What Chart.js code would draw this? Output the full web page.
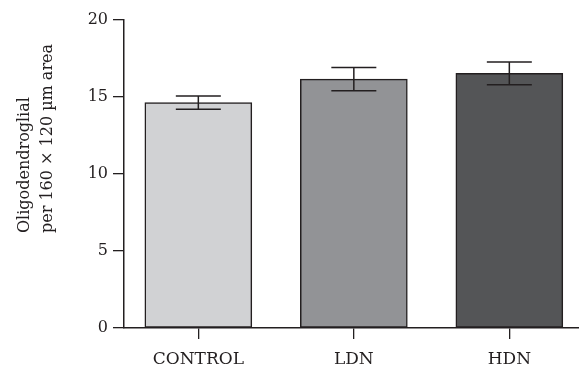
<!DOCTYPE html>
<html>
<head>
<meta charset="utf-8">
<script src="https://cdn.jsdelivr.net/npm/chart.js@4"></script>
<style>
  html, body { margin: 0; padding: 0; background: #fff; }
  #wrap { width: 579px; height: 369px; }
</style>
</head>
<body>
<div id="wrap"><canvas id="bar-chart"></canvas></div>
<script>
// Datos del gráfico
const grupos = ["CONTROL", "LDN", "HDN"];
const medias = [14.63, 16.16, 16.53];
const errores = [0.43, 0.75, 0.74];
const ticksY = [0, 5, 10, 15, 20];
const colores = ["#d1d2d4", "#929396", "#545557"];
const tituloY = ["Oligodendroglial", "per 160 \u00d7 120 \u00b5m area"];

const tinta = "#231f20";
const fuente = "'DejaVu Serif', 'Liberation Serif', serif";

// Barras de error
const barrasError = {
  id: "barrasError",
  afterDatasetsDraw(chart) {
    const ctx = chart.ctx;
    const x = chart.scales.x;
    const y = chart.scales.y;
    ctx.save();
    ctx.strokeStyle = tinta;
    ctx.lineWidth = 1.5;
    medias.forEach((m, i) => {
      const px = x.getPixelForValue(i);
      const alto = y.getPixelForValue(m + errores[i]);
      const bajo = y.getPixelForValue(m - errores[i]);
      ctx.beginPath();
      ctx.moveTo(px, alto); ctx.lineTo(px, bajo);
      ctx.moveTo(px - 22.5, alto); ctx.lineTo(px + 22.5, alto);
      ctx.moveTo(px - 22.5, bajo); ctx.lineTo(px + 22.5, bajo);
      ctx.stroke();
    });
    ctx.restore();
  }
};

// Título del eje Y (dos líneas, alineado a la izquierda)
const tituloEje = {
  id: "tituloEje",
  afterDraw(chart) {
    const ctx = chart.ctx;
    ctx.save();
    ctx.fillStyle = tinta;
    ctx.font = "16px " + fuente;
    ctx.textAlign = "left";
    ctx.textBaseline = "middle";
    ctx.translate(0, 233);
    ctx.rotate(-Math.PI / 2);
    ctx.fillText(tituloY[0], 0, 25);
    ctx.fillText(tituloY[1], 0, 48);
    ctx.restore();
  }
};

new Chart(document.getElementById("bar-chart"), {
  type: "bar",
  data: {
    datasets: [{
      data: medias.map((v, i) => ({ x: i, y: v })),
      backgroundColor: colores,
      borderColor: tinta,
      borderWidth: 1.5,
      borderSkipped: false,
      barThickness: 107
    }]
  },
  options: {
    responsive: true,
    maintainAspectRatio: false,
    animation: false,
    layout: { padding: { top: 20, right: 0, bottom: 0, left: 0 } },
    plugins: {
      legend: { display: false },
      tooltip: { enabled: false }
    },
    scales: {
      x: {
        type: "linear",
        offset: false,
        min: -0.478,
        max: 2.448,
        afterBuildTicks: (s) => { s.ticks = grupos.map((g, i) => ({ value: i })); },
        afterFit: (s) => { s.height = 41; },
        border: { display: true, color: tinta, width: 1.5 },
        grid: { display: true, offset: false, drawOnChartArea: false, drawTicks: true, tickLength: 11, color: tinta, lineWidth: 1.3 },
        ticks: {
          callback: (v) => grupos[v],
          color: tinta,
          font: { family: fuente, size: 17 },
          padding: 10,
          maxRotation: 0
        }
      },
      y: {
        min: 0,
        max: 20,
        afterBuildTicks: (s) => { s.ticks = ticksY.map(v => ({ value: v })); },
        afterFit: (s) => { s.width = 124; },
        border: { display: true, color: tinta, width: 1.5 },
        grid: { display: true, drawOnChartArea: false, drawTicks: true, tickLength: 11, color: tinta, lineWidth: 1.3 },
        ticks: {
          color: tinta,
          font: { family: fuente, size: 16 },
          padding: 5
        }
      }
    }
  },
  plugins: [barrasError, tituloEje]
});
</script>
</body>
</html>
